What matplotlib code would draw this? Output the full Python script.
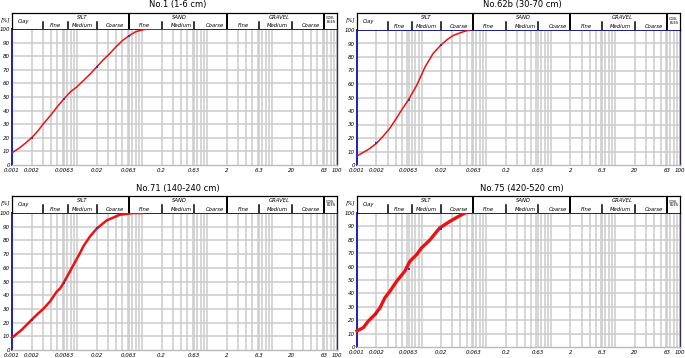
import numpy as np
import matplotlib
matplotlib.use("Agg")
import matplotlib.pyplot as plt

W, H = 685, 358

# Sample titles
titles = ["No.1 (1-6 cm)", "No.62b (30-70 cm)", "No.71 (140-240 cm)", "No.75 (420-520 cm)"]

# Grain size [mm] and percent passing
d1 = [0.001, 0.0013, 0.0016, 0.002, 0.0025, 0.003, 0.004, 0.005, 0.0063, 0.008, 0.01,
      0.0125, 0.016, 0.02, 0.025, 0.032, 0.04, 0.05, 0.063, 0.08, 0.1, 0.125, 0.2, 0.3, 0.5]
p1 = [9, 12.5, 16, 20, 25, 30, 37, 43, 48.6, 54, 57.5,
      62, 67, 72, 77, 82, 87, 91.5, 95, 98, 99.3, 100, 100, 100, 100]

d2 = [0.001, 0.0015, 0.002, 0.0025, 0.0032, 0.004, 0.0049, 0.0062, 0.0084, 0.0113,
      0.0151, 0.02, 0.025, 0.031, 0.04, 0.05, 0.055]
p2 = [6.7, 11.5, 16, 21, 27, 34, 40.7, 48, 59, 72.6,
      82.7, 89, 93, 96, 98, 99.5, 100]

d3 = [0.001, 0.0014, 0.002, 0.00254, 0.003, 0.00384, 0.0049, 0.0055, 0.0062, 0.0083,
      0.0111, 0.0125, 0.0159, 0.02, 0.0286, 0.046, 0.059, 0.07, 0.1]
p3 = [9, 14.6, 22, 26.8, 29.8, 35.4, 42.7, 45, 48.8, 59.8,
      70.7, 75.6, 83, 88.5, 94.6, 98.8, 99.3, 100, 100]

d4 = [0.001, 0.00125, 0.0015, 0.0019, 0.00227, 0.0027, 0.00324, 0.0041, 0.0055, 0.0066,
      0.0084, 0.01, 0.0135, 0.019, 0.0275, 0.039, 0.047]
p4 = [12, 14.4, 19.4, 24.3, 29.3, 36.7, 41.7, 49, 56.6, 64,
      69, 74, 80, 88.8, 93.8, 98, 100]

# blue sieve markers
md1 = [0.001, 0.002, 0.0063, 0.02, 0.063, 0.2]
mp1 = [9, 20, 48.6, 72, 95, 100]
md2 = [0.001, 0.002, 0.0063, 0.02, 0.63]
mp2 = [6.7, 16, 48, 89, 100]
md3 = [0.001, 0.002, 0.0063, 0.02, 0.2, 0.63, 2]
mp3 = [9, 22, 49, 89, 100, 100, 100]
md4 = [0.001, 0.002, 0.0063, 0.02, 0.063, 0.2, 0.63, 1.0, 2.0]
mp4 = [10, 25, 58, 88, 100, 100, 100, 100, 100]

curves = [(d1, p1), (d2, p2), (d3, p3), (d4, p4)]
markers = [(md1, mp1), (md2, mp2), (md3, mp3), (md4, mp4)]
line_widths = [1.1, 1.1, 1.8, 2.4]

x_tick_vals = [0.001, 0.002, 0.0063, 0.02, 0.063, 0.2, 0.63, 2, 6.3, 20, 63, 100]
x_tick_labels = ["0.001", "0.002", "0.0063", "0.02", "0.063", "0.2", "0.63", "2", "6.3", "20", "63", "100"]
y_ticks = list(range(0, 101, 10))

# header: main class boundaries and sub-class boundaries
main_bounds = [0.063, 2, 63]
sub_bounds = [0.003, 0.0072, 0.02, 0.2, 0.63, 6.3, 20]
main_names = ["SILT", "SAND", "GRAVEL"]
main_pos = [0.012, 0.38, 13]
sub_names = ["Fine", "Medium", "Coarse", "Fine", "Medium", "Coarse", "Fine", "Medium", "Coarse"]
sub_pos = [0.0046, 0.012, 0.038, 0.11, 0.4, 1.3, 3.6, 12, 39]

# panel boxes in pixels: left, right, plot top, plot bottom, header top, title y
panels = [
    (12, 337, 29, 165, 13, 5),
    (357, 680, 30, 165, 13, 5),
    (12, 337, 213, 350, 196, 188),
    (357, 680, 213, 347, 196, 188),
]


def rect(l, r, t, b):
    return [l / W, 1 - b / H, (r - l) / W, (b - t) / H]


# grid lines at 1..9 x decade plus the 6.3 series
grid_x = []
for e in range(-3, 2):
    for k in [1, 2, 3, 4, 5, 6, 6.3, 7, 8, 9]:
        grid_x.append(k * 10.0 ** e)
grid_x.append(100)

fig = plt.figure(figsize=(W / 100, H / 100), dpi=100)
fs_tick = 4.0
fs_head = 3.8

for i, (l, r, t, b, ht, ty) in enumerate(panels):
    ax = fig.add_axes(rect(l, r, t, b))
    ax.set_xscale("log")
    ax.set_xlim(0.001, 100)
    ax.set_ylim(0, 100)
    for gx in grid_x:
        ax.axvline(gx, color="#cccccc", lw=1.1, zorder=0)
    for gy in y_ticks[1:]:
        ax.axhline(gy, color="#cccccc", lw=1.1, zorder=0)
    ax.axhline(100, color="#1c1c8c", lw=1.4, zorder=1)
    d, p = curves[i]
    ax.plot(d, p, color="#ee1111", lw=line_widths[i], zorder=3, clip_on=False)
    md, mp = markers[i]
    ax.plot(md, mp, ls="none", marker="s", ms=1.6, color="#2233dd", mew=0, zorder=4, clip_on=False)

    ax.set_xticks(x_tick_vals)
    ax.set_xticklabels(x_tick_labels, fontsize=fs_tick, style="italic")
    ax.xaxis.set_minor_locator(matplotlib.ticker.NullLocator())
    ax.set_yticks(y_ticks)
    ax.set_yticklabels([str(v) for v in y_ticks], fontsize=fs_tick, style="italic")
    ax.tick_params(length=0, pad=2)
    ax.tick_params(axis="y", pad=1.5)
    ax.spines["left"].set_color("#2020b0")
    ax.spines["left"].set_linewidth(1.4)
    ax.spines["right"].set_color("#333355")
    ax.spines["right"].set_linewidth(1.0)
    ax.spines["top"].set_visible(False)
    ax.spines["bottom"].set_color("#bbbbbb")
    ax.spines["bottom"].set_linewidth(1.0)

    # header strip
    hx = fig.add_axes(rect(l, r, ht, t))
    hx.set_xscale("log")
    hx.set_xlim(0.001, 100)
    hx.set_ylim(0, 1)
    hx.set_xticks([])
    hx.set_yticks([])
    hx.xaxis.set_minor_locator(matplotlib.ticker.NullLocator())
    for s in hx.spines.values():
        s.set_color("black")
        s.set_linewidth(0.9)
    hx.spines["bottom"].set_visible(False)
    for mb in main_bounds:
        hx.axvline(mb, color="black", lw=1.4)
    for sb in sub_bounds:
        hx.plot([sb, sb], [0, 0.45], color="black", lw=1.1)
    for name, x in zip(main_names, main_pos):
        hx.text(x, 0.75, name, ha="center", va="center", fontsize=fs_head, style="italic")
    for name, x in zip(sub_names, sub_pos):
        hx.text(x, 0.22, name, ha="center", va="center", fontsize=fs_head, style="italic")
    hx.text(0.0015, 0.5, "Clay", ha="center", va="center", fontsize=fs_head, style="italic")
    hx.text(80, 0.55, "COB-\nBLES", ha="center", va="center", fontsize=2.6, linespacing=0.9)

    fig.text((l - 11) / W, 1 - (ht + 7) / H, "[%]", ha="left", va="center",
             fontsize=fs_tick, style="italic")
    fig.text((l + r) / 2 / W + 0.005, 1 - ty / H, titles[i], ha="center", va="center", fontsize=6)

fig.savefig("out.png", dpi=100)
